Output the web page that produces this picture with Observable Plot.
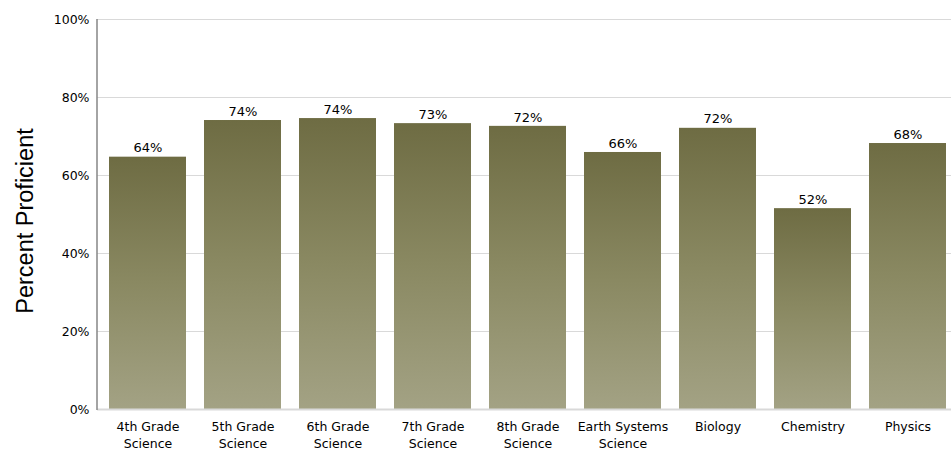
<!DOCTYPE html>
<html><head><meta charset="utf-8">
<script src="https://cdn.jsdelivr.net/npm/d3@7"></script>
<script src="https://cdn.jsdelivr.net/npm/@observablehq/plot@0.6"></script>
<style>
body{margin:0;background:#fff;}
svg{font-family:"DejaVu Sans",Verdana,sans-serif;}
</style>
</head><body>
<div id="chart"></div>
<script>
const categories = ["4th Grade\nScience","5th Grade\nScience","6th Grade\nScience","7th Grade\nScience","8th Grade\nScience","Earth Systems\nScience","Biology","Chemistry","Physics"];
const values = [64.7, 74.1, 74.6, 73.3, 72.6, 65.9, 72.1, 51.5, 68.2];
const valueLabels = ["64%","74%","74%","73%","72%","66%","72%","52%","68%"];
const yTicks = [0,20,40,60,80,100];

const data = categories.map((c,i)=>({cat:c, v:values[i], lab:valueLabels[i]}));

const plot = Plot.plot({
  width: 951, height: 451,
  marginLeft: 97, marginRight: 0, marginTop: 19, marginBottom: 42,
  style: {fontFamily: '"DejaVu Sans",Verdana,sans-serif', fontSize: "12px", color: "#000", background: "#fff"},
  x: {domain: categories, range: [97, 958], paddingInner: 0.185, paddingOuter: 0.094, label: null},
  y: {domain: [0,100], label: null},
  marks: [
    Plot.gridY(yTicks, {stroke: "#d9d9d9", strokeOpacity: 1, strokeWidth: 1}),
    Plot.barY(data, {x: "cat", y: "v", fill: "url(#barGrad)"}),
    Plot.ruleY([0], {stroke: "#d9d9d9", strokeWidth: 2}),
    Plot.axisY(yTicks, {tickSize: 0, tickPadding: 8, tickFormat: d => d + "%", fontSize: 12.5, label: null}),
    Plot.axisX({tickSize: 0, tickPadding: 10, fontSize: 12.5, lineHeight: 1.35, label: null}),
    Plot.text(data, {x: "cat", y: "v", text: "lab", dy: -9, fontSize: 13, fill: "#000"})
  ]
});

const defs = document.createElementNS("http://www.w3.org/2000/svg","defs");
defs.innerHTML = `<linearGradient id="barGrad" x1="0" y1="0" x2="0" y2="1">
  <stop offset="0" stop-color="#6e6c43"/>
  <stop offset="0.5" stop-color="#8a8962"/>
  <stop offset="1" stop-color="#a3a284"/>
</linearGradient>`;
plot.insertBefore(defs, plot.firstChild);

document.getElementById("chart").appendChild(plot);

const svg = d3.select(plot);
const ys = plot.scale("y");
// left axis line
svg.append("line")
  .attr("x1", 97).attr("x2", 97)
  .attr("y1", ys.apply(100)).attr("y2", ys.apply(0) + 1)
  .attr("stroke", "#868686").attr("stroke-width", 1.5);

// y-axis title
svg.append("text")
  .attr("transform", "translate(33,221) rotate(-90)")
  .attr("text-anchor", "middle")
  .attr("font-family", '"Liberation Sans",Arial,sans-serif')
  .attr("font-size", 23.5)
  .attr("fill", "#000")
  .text("Percent Proficient");
</script>
</body></html>
